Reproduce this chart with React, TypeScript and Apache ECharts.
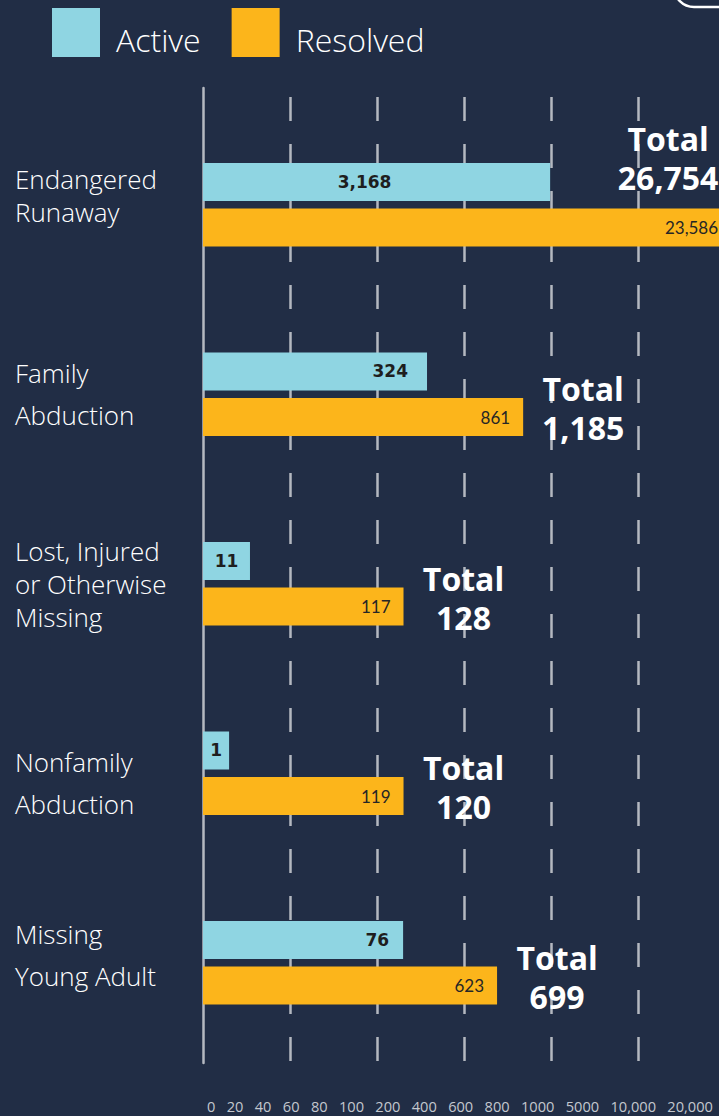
import React, { useEffect, useRef } from "react";
import * as echarts from "echarts";

// ---- data ----
const categories = [
  "Endangered\nRunaway",
  "Family\nAbduction",
  "Lost, Injured\nor Otherwise\nMissing",
  "Nonfamily\nAbduction",
  "Missing\nYoung Adult",
];
const seriesNames = ["Active", "Resolved"];
const activeValues = [3168, 324, 11, 1, 76];
const resolvedValues = [23586, 861, 117, 119, 623];
const tickLabels = ["0", "20", "40", "60", "80", "100", "200", "400", "600", "800", "1000", "5000", "10,000", "20,000"];

// ---- the infographic's hand-drawn, non-linear value scale (value -> axis units) ----
const SCALE = {
  values: [0, 1, 11, 76, 119, 324, 623, 861, 3168, 23586],
  units: [0, 0.3, 0.54, 2.3, 2.305, 2.575, 3.38, 3.68, 3.99, 6.07],
};
function toAxis(v: number): number {
  const { values, units } = SCALE;
  for (let i = 1; i < values.length; i++) {
    if (v <= values[i]) {
      const t = (v - values[i - 1]) / (values[i] - values[i - 1]);
      return units[i - 1] + t * (units[i] - units[i - 1]);
    }
  }
  return units[units.length - 1];
}
const fmt = (n: number) => n.toLocaleString("en-US");

const BG = "#212d45";
const ACTIVE = "#8fd5e2";
const RESOLVED = "#fcb51b";
const GRIDC = "#b4b8c0";

export default function App() {
  const ref = useRef<HTMLDivElement>(null);
  useEffect(() => {
    const chart = echarts.init(ref.current!, null, { renderer: "svg" });
    const LEFT = 203;
    const UNIT = 87;
    const XMAX = (719 - LEFT) / UNIT;
    const totals = activeValues.map((v, i) => v + resolvedValues[i]);

    const activeLabel = [
      { position: "inside", offset: [-12, 0] },
      { position: "insideRight", distance: 19 },
      { position: "inside" },
      { position: "inside" },
      { position: "insideRight", distance: 14 },
    ];
    const catPadding = [
      [0, 0, 18, 0],
      [0, 0, 0, 0],
      [0, 0, 0, 0],
      [20, 0, 0, 0],
      [0, 0, 16, 0],
    ];

    const labelFont = { color: "#ffffff", fontFamily: "Open Sans", fontWeight: 300, fontSize: 26 };
    const legendFont = { color: "#ffffff", fontFamily: "Open Sans", fontWeight: 300, fontSize: 32 };

    const option: any = {
      animation: false,
      backgroundColor: BG,
      legend: {
        left: 52,
        top: 8,
        padding: 0,
        itemWidth: 48,
        itemHeight: 49,
        itemGap: 31,
        icon: "rect",
        selectedMode: false,
        data: seriesNames,
        formatter: (name: string) => `{t|${name}}`,
        textStyle: {
          ...legendFont,
          padding: [0, 0, 0, 11],
          rich: { t: { ...legendFont, padding: [14, 0, 0, 0] } },
        },
      },
      grid: [
        { left: LEFT, top: 88, right: 0, height: 975, outerBoundsMode: "none" },
        { left: LEFT, top: 110, right: 0, height: 947.5, outerBoundsMode: "none" },
      ],
      xAxis: [
        {
          gridIndex: 0,
          type: "value",
          min: 0,
          max: XMAX,
          interval: 1,
          axisLine: { show: false },
          axisTick: { show: false },
          axisLabel: { show: false },
          splitLine: {
            show: true,
            showMinLine: false,
            showMaxLine: false,
            lineStyle: { color: GRIDC, width: 2.5, type: [24, 23], dashOffset: 38 },
          },
        },
        { gridIndex: 1, type: "value", min: 0, max: XMAX, show: false },
      ],
      yAxis: [
        {
          gridIndex: 0,
          type: "category",
          data: [""],
          axisLine: { show: true, lineStyle: { color: GRIDC, width: 2.5 } },
          axisTick: { show: false },
          axisLabel: { show: false },
          splitLine: { show: false },
        },
        {
          gridIndex: 1,
          type: "category",
          data: categories.map((c, i) => ({
            value: c,
            textStyle: { align: "left", padding: catPadding[i] },
          })),
          inverse: true,
          axisLine: { show: false },
          axisTick: { show: false },
          splitLine: { show: false },
          axisLabel: {
            ...labelFont,
            align: "left",
            margin: 188,
            formatter: (value: string, index: number) => {
              const s = index === 0 || index === 2 ? "a" : "b";
              return value
                .split("\n")
                .map((l) => `{${s}|${l}}`)
                .join("\n");
            },
            rich: {
              a: { ...labelFont, lineHeight: 33 },
              b: { ...labelFont, lineHeight: 42 },
            },
          },
        },
      ],
      series: [
        {
          name: seriesNames[0],
          type: "bar",
          xAxisIndex: 1,
          yAxisIndex: 1,
          barWidth: 38,
          barGap: "20%",
          clip: false,
          itemStyle: { color: ACTIVE },
          label: {
            show: true,
            color: "#1e1e1e",
            fontFamily: "DejaVu Sans",
            fontWeight: "bold",
            fontSize: 17,
            formatter: (p: any) => fmt(activeValues[p.dataIndex]),
          },
          data: activeValues.map((v, i) => ({ value: toAxis(v), label: activeLabel[i] })),
        },
        {
          name: seriesNames[1],
          type: "bar",
          xAxisIndex: 1,
          yAxisIndex: 1,
          barWidth: 38,
          barGap: "20%",
          clip: false,
          itemStyle: { color: RESOLVED },
          label: {
            show: true,
            position: "insideRight",
            distance: 13,
            color: "#262626",
            fontFamily: "Lato",
            fontWeight: 400,
            fontSize: 17,
            formatter: (p: any) => fmt(resolvedValues[p.dataIndex]),
          },
          data: resolvedValues.map((v) => toAxis(v)),
        },
        {
          name: "Total",
          type: "scatter",
          xAxisIndex: 1,
          yAxisIndex: 1,
          symbolSize: 1,
          silent: true,
          clip: false,
          itemStyle: { color: BG, opacity: 1 },
          label: {
            show: true,
            position: "inside",
            offset: [60, 14],
            align: "center",
            verticalAlign: "middle",
            color: "#ffffff",
            opacity: 1,
            fontFamily: "Open Sans",
            fontWeight: "bold",
            fontSize: 32,
            lineHeight: 39,
            formatter: (p: any) => `Total\n${fmt(totals[p.dataIndex])}`,
          },
          data: resolvedValues.map((v, i) =>
            i === 0
              ? { value: [toAxis(v), i], label: { offset: [-63, -47] } }
              : { value: [toAxis(v), i] }
          ),
        },
      ],
      graphic: [
        {
          type: "rect",
          shape: { x: 674, y: -60, width: 120, height: 67, r: 20 },
          style: { fill: "none", stroke: "#ffffff", lineWidth: 2.5 },
        },
        {
          type: "text",
          x: 207,
          y: 1106,
          style: {
            text: tickLabels.join("   "),
            fill: "#c4c8cf",
            fontSize: 14.6,
            fontFamily: "Open Sans",
            verticalAlign: "middle",
          },
        },
      ],
    };
    chart.setOption(option);
    return () => chart.dispose();
  }, []);
  return (
    <div
      ref={ref}
      style={{ position: "fixed", left: 0, top: 0, width: 719, height: 1116 }}
    />
  );
}
